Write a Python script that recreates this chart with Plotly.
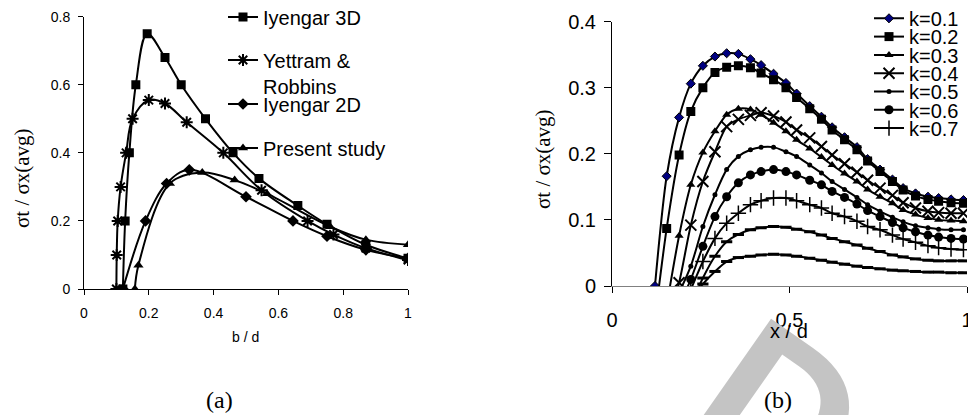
import plotly.graph_objects as go

# ---------------- Panel (a) data ----------------
IY3D_X = [0.12, 0.127, 0.14, 0.16, 0.195, 0.25, 0.3, 0.375, 0.46, 0.54, 0.66, 0.75, 0.87, 1.0]
IY3D_Y = [0, 0.2, 0.4, 0.6, 0.75, 0.68, 0.6, 0.5, 0.4, 0.325, 0.245, 0.19, 0.13, 0.09]

YR_X = [0.1, 0.101, 0.104, 0.113, 0.13, 0.15, 0.2, 0.25, 0.317, 0.43, 0.548, 0.69, 0.77, 0.87, 1.0]
YR_Y = [0, 0.1, 0.2, 0.3, 0.4, 0.5, 0.555, 0.545, 0.49, 0.4, 0.29, 0.2, 0.16, 0.12, 0.085]

IY2D_X = [0.12, 0.19, 0.255, 0.325, 0.5, 0.645, 0.75, 0.87, 1.0]
IY2D_Y = [0, 0.2, 0.31, 0.35, 0.271, 0.2, 0.155, 0.115, 0.09]

PS_X = [0.157, 0.168, 0.265, 0.365, 0.465, 0.565, 0.76, 0.87, 1.0]
PS_Y = [0, 0.07, 0.31, 0.342, 0.32, 0.28, 0.183, 0.145, 0.13]

A_NAMES = ["Iyengar 3D", "Yettram &<br>Robbins", "Iyengar 2D", "Present study"]
A_XTICKS = [0, 0.2, 0.4, 0.6, 0.8, 1]
A_XTICKTEXT = ["0", "0.2", "0.4", "0.6", "0.8", "1"]
A_YTICKS = [0, 0.2, 0.4, 0.6, 0.8]
A_YTICKTEXT = ["0", "0.2", "0.4", "0.6", "0.8"]

# ---------------- Panel (b) data ----------------
XB = [0.121, 0.154, 0.189, 0.222, 0.256, 0.29, 0.323, 0.356, 0.39, 0.42, 0.455, 0.49, 0.52,
      0.557, 0.59, 0.62, 0.655, 0.69, 0.72, 0.755, 0.79, 0.82, 0.855, 0.89, 0.92, 0.955, 0.99]

K01 = [0, 0.166, 0.255, 0.306, 0.333, 0.347, 0.352, 0.351, 0.343, 0.334, 0.321, 0.307, 0.291,
       0.272, 0.256, 0.24, 0.225, 0.21, 0.192, 0.176, 0.161, 0.148, 0.14, 0.135, 0.133, 0.131, 0.13]
K02 = [-0.05, 0.087, 0.198, 0.264, 0.300, 0.323, 0.331, 0.333, 0.330, 0.322, 0.312, 0.300, 0.285,
       0.268, 0.252, 0.236, 0.221, 0.206, 0.189, 0.173, 0.158, 0.145, 0.136, 0.131, 0.128, 0.126, 0.125]
K03 = [None, -0.03, 0.076, 0.153, 0.202, 0.234, 0.259, 0.268, 0.267, 0.259, 0.247, 0.234, 0.221,
       0.208, 0.195, 0.183, 0.170, 0.158, 0.146, 0.135, 0.125, 0.115, 0.108, 0.103, 0.100, 0.099, 0.098]
K04 = [None, -0.06, 0.005, 0.092, 0.158, 0.203, 0.241, 0.252, 0.258, 0.262, 0.257, 0.248, 0.236,
       0.224, 0.211, 0.198, 0.185, 0.172, 0.160, 0.148, 0.137, 0.126, 0.118, 0.113, 0.111, 0.110, 0.110]
K05 = [None, None, -0.01, 0.03, 0.09, 0.138, 0.176, 0.196, 0.206, 0.21, 0.21, 0.203, 0.196,
       0.183, 0.171, 0.158, 0.146, 0.134, 0.123, 0.113, 0.104, 0.097, 0.091, 0.088, 0.086, 0.085, 0.085]
K06 = [None, None, -0.03, 0.01, 0.06, 0.105, 0.135, 0.156, 0.168, 0.173, 0.176, 0.173, 0.168,
       0.16, 0.153, 0.143, 0.134, 0.124, 0.114, 0.105, 0.096, 0.088, 0.082, 0.077, 0.074, 0.072, 0.071]
K07 = [None, None, -0.04, -0.005, 0.037, 0.072, 0.095, 0.110, 0.123, 0.129, 0.133, 0.133, 0.129,
       0.123, 0.118, 0.110, 0.105, 0.098, 0.090, 0.085, 0.077, 0.071, 0.066, 0.061, 0.058, 0.056, 0.055]
K08 = [None, None, None, -0.03, 0.012, 0.045, 0.067, 0.078, 0.085, 0.088, 0.09, 0.089, 0.086,
       0.082, 0.077, 0.072, 0.067, 0.062, 0.057, 0.052, 0.047, 0.044, 0.041, 0.039, 0.038, 0.038, 0.038]
K09 = [None, None, None, -0.02, 0.003, 0.022, 0.037, 0.043, 0.045, 0.047, 0.048, 0.047, 0.045,
       0.042, 0.039, 0.036, 0.033, 0.030, 0.028, 0.026, 0.024, 0.023, 0.022, 0.021, 0.021, 0.020, 0.020]

B_SERIES = [K01, K02, K03, K04, K05, K06, K07, K08, K09]
B_NAMES = ["k=0.1", "k=0.2", "k=0.3", "k=0.4", "k=0.5", "k=0.6", "k=0.7", "k=0.8", "k=0.9"]
B_XTICKS = [0, 0.5, 1]
B_XTICKTEXT = ["0", "0.5", "1"]
B_YTICKS = [0, 0.1, 0.2, 0.3, 0.4]
B_YTICKTEXT = ["0", "0.1", "0.2", "0.3", "0.4"]

# ---------------- figure ----------------
W, H = 968, 415
SANS = "Liberation Sans, Arial, sans-serif"
SERIF = "Liberation Serif, Times New Roman, serif"

fig = go.Figure()

a_markers = [
    dict(symbol="square", size=9, color="black"),
    dict(symbol="asterisk-open", size=10, color="black", line=dict(width=2, color="black")),
    dict(symbol="diamond", size=9, color="black"),
    dict(symbol="triangle-up", size=9, color="black"),
]
a_data = [(IY3D_X, IY3D_Y), (YR_X, YR_Y), (IY2D_X, IY2D_Y), (PS_X, PS_Y)]
for i, ((xs, ys), name, mk) in enumerate(zip(a_data, A_NAMES, a_markers)):
    fig.add_trace(go.Scatter(
        x=xs, y=ys, name=name, mode="lines+markers",
        line=dict(color="black", width=2, shape="spline", smoothing=1.0),
        marker=mk, xaxis="x", yaxis="y", showlegend=True,
        legend="legend" if i == 0 else f"legend{i+1}",
    ))

b_markers = [
    dict(symbol="diamond", size=7, color="#000080", line=dict(width=1, color="black")),
    dict(symbol="square", size=9, color="black"),
    dict(symbol="triangle-up", size=8, color="black"),
    dict(symbol="x-thin-open", size=11, color="black", line=dict(width=2, color="black")),
    dict(symbol="circle", size=5, color="black"),
    dict(symbol="circle", size=9, color="black"),
    dict(symbol="cross-thin-open", size=11, color="black", line=dict(width=1.5, color="black")),
    dict(symbol="line-ew-open", size=8, color="black", line=dict(width=3, color="black")),
    dict(symbol="line-ew-open", size=8, color="black", line=dict(width=3, color="black")),
]
for i, (ys, name, mk) in enumerate(zip(B_SERIES, B_NAMES, b_markers)):
    fig.add_trace(go.Scatter(
        x=XB, y=ys, name=name, mode="lines+markers",
        line=dict(color="black", width=2, shape="spline", smoothing=0.8),
        marker=mk, xaxis="x2", yaxis="y2",
        showlegend=i < 7,
        legend=f"legend{min(i, 6)+5}",
    ))

def px_x(p):
    return p / W

def px_y(p):
    return 1 - p / H

def leg(xp, yp, size, valign="middle"):
    return dict(x=px_x(xp), y=px_y(yp), xanchor="left", yanchor="middle", visible=True,
                bgcolor="rgba(0,0,0,0)", borderwidth=0, valign=valign,
                font=dict(family=SANS, size=size, color="black"), itemwidth=30,
                tracegroupgap=0)

legends = {}
a_rows = [(17, "middle"), (73, "top"), (104, "middle"), (148, "middle")]
for i, (yp, va) in enumerate(a_rows):
    key = "legend" if i == 0 else f"legend{i+1}"
    legends[key] = leg(223, yp, 20, va)
for j in range(7):
    legends[f"legend{j+5}"] = leg(869, 18.3 + 18.3 * j, 20)

axis_common = dict(showgrid=False, zeroline=False, showline=True, ticks="outside",
                   tickcolor="black", tickwidth=1, mirror=False)

fig.update_layout(
    width=W, height=H, margin=dict(l=0, r=0, t=0, b=0, autoexpand=False), showlegend=True,
    paper_bgcolor="white", plot_bgcolor="white",
    xaxis=dict(domain=[84 / W, 408 / W], range=[0, 1], tickvals=A_XTICKS, ticktext=A_XTICKTEXT,
               linecolor="black", linewidth=1, ticklen=5, anchor="y",
               tickfont=dict(family=SANS, size=14, color="black"), ticklabelstandoff=6,
               **axis_common),
    yaxis=dict(domain=[1 - 289 / H, 1 - 16.7 / H], range=[0, 0.8], tickvals=A_YTICKS,
               ticktext=A_YTICKTEXT, linecolor="black", linewidth=1, ticklen=5, anchor="x",
               tickfont=dict(family=SANS, size=14, color="black"), ticklabelstandoff=5,
               **axis_common),
    xaxis2=dict(domain=[612 / W, 967 / W], range=[0, 1], tickvals=B_XTICKS, ticktext=B_XTICKTEXT,
                linecolor="#808080", linewidth=1, ticklen=6, anchor="y2",
                tickfont=dict(family=SANS, size=20, color="black"), ticklabelstandoff=10,
                ticklabeloverflow="allow", **axis_common),
    yaxis2=dict(domain=[1 - 286 / H, 1 - 21.5 / H], range=[0, 0.4], tickvals=B_YTICKS,
                ticktext=B_YTICKTEXT, linecolor="black", linewidth=1, ticklen=7, anchor="x2",
                tickfont=dict(family=SANS, size=20, color="black"), ticklabelstandoff=4,
                **axis_common),
    **legends,
)

ann = [
    # faint watermark letter behind the (b) caption
    dict(text="<b>D</b>", x=px_x(781), y=px_y(410), textangle=35,
         font=dict(family="Liberation Sans, Arial, sans-serif", size=205, color="#c4c4c4")),
    dict(text="σt / σx(avg)", x=px_x(22), y=px_y(178), textangle=-90,
         font=dict(family=SERIF, size=21, color="black")),
    dict(text="b / d", x=px_x(245), y=px_y(337), font=dict(family=SANS, size=14, color="black")),
    dict(text="σt / σx(avg)", x=px_x(543), y=px_y(159), textangle=-90,
         font=dict(family=SERIF, size=21, color="black")),
    dict(text="x / d", x=px_x(789), y=px_y(331), font=dict(family=SANS, size=20, color="black")),
    dict(text="(a)", x=px_x(219), y=px_y(400), font=dict(family=SERIF, size=24, color="black")),
    dict(text="(b)", x=px_x(778), y=px_y(400), font=dict(family=SERIF, size=24, color="black")),
]
for a in ann:
    a.update(xref="paper", yref="paper", showarrow=False, xanchor="center", yanchor="middle")
    fig.add_annotation(**a)

fig.write_html("out.html", config={"displayModeBar": False},
               post_script="document.body.style.margin='0';document.body.style.overflow='hidden';")
